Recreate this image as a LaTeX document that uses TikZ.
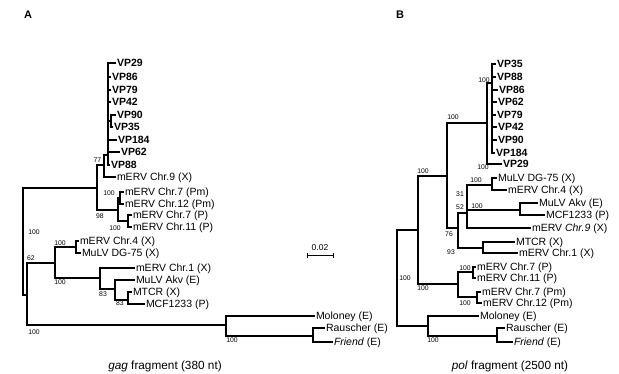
\documentclass[tikz,border=0pt]{standalone}
\usepackage{fontspec}
\setmainfont{Liberation Sans}
\begin{document}
\begin{tikzpicture}[x=1pt,y=-1pt,
  br/.style={line width=1.4pt},
  lf/.style={anchor=west, inner sep=0.8pt, font=\fontsize{10.5}{12}\selectfont, text height=7.4pt, text depth=0pt},
  vp/.style={lf, font=\fontsize{10.5}{12}\selectfont\bfseries},
  bs/.style={inner sep=0pt, font=\fontsize{6.8}{8}\selectfont},
  capt/.style={inner sep=0pt, font=\fontsize{11.8}{14}\selectfont},
  plab/.style={inner sep=0pt, font=\fontsize{11}{13}\selectfont\bfseries}]
\fill[white] (0,0) rectangle (619,374);
\useasboundingbox (0,0) rectangle (619,374);

% ---------------- Panel A ----------------
\node[plab] (labA) at (28,15) {A};
\coordinate (rA) at (23,241);
\coordinate (n97) at (97,188);
\coordinate (n77) at (104,165);
\coordinate (vpA) at (108,155);
\coordinate (s90) at (111,121);
\coordinate (n98) at (118,210);
\coordinate (pmA) at (120,198);
\coordinate (pA) at (128,221);
\coordinate (mA) at (27,295);
\coordinate (n62) at (55,263);
\coordinate (n4) at (76,247);
\coordinate (nLow) at (100,278);
\coordinate (n83a) at (115,289);
\coordinate (n83b) at (128,300);
\coordinate (molA) at (226,325);
\coordinate (rfA) at (313,336);

\node[vp] (aVP29) at (116,63) {VP29};
\node[vp] (aVP86) at (111,77) {VP86};
\node[vp] (aVP79) at (111,90) {VP79};
\node[vp] (aVP42) at (111,102) {VP42};
\node[vp] (aVP90) at (116,115) {VP90};
\node[vp] (aVP35) at (113,127) {VP35};
\node[vp] (aVP184) at (117,140) {VP184};
\node[vp] (aVP62) at (120,152) {VP62};
\node[vp] (aVP88) at (110,165) {VP88};
\node[lf] (aC9) at (116,177) {mERV Chr.9 (X)};
\node[lf] (aC7m) at (124,192) {mERV Chr.7 (Pm)};
\node[lf] (aC12m) at (124,204) {mERV Chr.12 (Pm)};
\node[lf] (aC7p) at (132,215) {mERV Chr.7 (P)};
\node[lf] (aC11p) at (132,227) {mERV Chr.11 (P)};
\node[lf] (aC4) at (79,241) {mERV Chr.4 (X)};
\node[lf] (aDG) at (81,253) {MuLV DG-75 (X)};
\node[lf] (aC1) at (135,268) {mERV Chr.1 (X)};
\node[lf] (aAkv) at (135,280) {MuLV Akv (E)};
\node[lf] (aMT) at (132,292) {MTCR (X)};
\node[lf] (aMCF) at (145,304) {MCF1233 (P)};
\node[lf] (aMol) at (315,316) {Moloney (E)};
\node[lf] (aRau) at (325,328) {Rauscher (E)};
\node[lf] (aFr) at (333,342) {\textit{Friend} (E)};

\foreach \p/\c in {rA/n97, rA/mA, n97/n77, n97/n98, n77/vpA, n77/aC9.west,
  vpA/aVP29.west, vpA/aVP86.west, vpA/aVP79.west, vpA/aVP42.west, vpA/s90,
  s90/aVP90.west, s90/aVP35.west, vpA/aVP184.west, vpA/aVP62.west, vpA/aVP88.west,
  n98/pmA, n98/pA, pmA/aC7m.west, pmA/aC12m.west, pA/aC7p.west, pA/aC11p.west,
  mA/n62, mA/molA, n62/n4, n62/nLow, n4/aC4.west, n4/aDG.west,
  nLow/aC1.west, nLow/n83a, n83a/aAkv.west, n83a/n83b, n83b/aMT.west, n83b/aMCF.west,
  molA/aMol.west, molA/rfA, rfA/aRau.west, rfA/aFr.west}
  \draw[br] (\p) |- (\c);

\node[bs] (bA1) at (97.5,160) {77};
\node[bs] (bA2) at (109,193) {100};
\node[bs] (bA3) at (100,216) {98};
\node[bs] (bA4) at (115,228) {100};
\node[bs] (bA5) at (34,232) {100};
\node[bs] (bA6) at (31,258) {62};
\node[bs] (bA7) at (60,243) {100};
\node[bs] (bA8) at (60,282) {100};
\node[bs] (bA9) at (103,294) {83};
\node[bs] (bA10) at (120,303) {83};
\node[bs] (bA11) at (34,332) {100};
\node[bs] (bA12) at (232,340) {100};

% scale bar
\coordinate (sb1) at (307,256);
\coordinate (sb2) at (333,256);
\draw[line width=1pt] (sb1) -- (sb2);
\draw[line width=1pt] ([yshift=-2pt]sb1) -- ([yshift=3pt]sb1);
\draw[line width=1pt] ([yshift=-2pt]sb2) -- ([yshift=3pt]sb2);
\node[bs, font=\fontsize{8.5}{10}\selectfont] (sbl) at (320,248) {0.02};

\node[capt] (capA) at (165,366) {\textit{gag} fragment (380 nt)};

% ---------------- Panel B ----------------
\node[plab] (labB) at (400,15) {B};
\coordinate (rB) at (397,278);
\coordinate (b418) at (418,230);
\coordinate (b447) at (447,176);
\coordinate (bVP) at (487,123);
\coordinate (bVPi) at (492,83);
\coordinate (b458a) at (458,228);
\coordinate (b467) at (467,213);
\coordinate (bDG) at (492,185);
\coordinate (bAkv) at (520,210);
\coordinate (bMT) at (483,248);
\coordinate (bChr) at (458,284);
\coordinate (bP) at (473,272);
\coordinate (bPm) at (477,297);
\coordinate (bMol) at (428,326);
\coordinate (bRF) at (497,336);

\node[vp] (bVP35) at (496,64) {VP35};
\node[vp] (bVP88) at (496,77) {VP88};
\node[vp] (bVP86) at (498,90) {VP86};
\node[vp] (bVP62) at (497,102) {VP62};
\node[vp] (bVP79) at (496,115) {VP79};
\node[vp] (bVP42) at (497,127) {VP42};
\node[vp] (bVP90) at (497,140) {VP90};
\node[vp] (bVP184) at (495,153) {VP184};
\node[vp] (bVP29) at (502,164) {VP29};
\node[lf] (bDGl) at (497,178) {MuLV DG-75 (X)};
\node[lf] (bC4) at (507,190) {mERV Chr.4 (X)};
\node[lf] (bAkvl) at (538,203) {MuLV Akv (E)};
\node[lf] (bMCF) at (545,215) {MCF1233 (P)};
\node[lf] (bC9) at (531,228) {mERV \textit{Chr.9} (X)};
\node[lf] (bMTl) at (515,242) {MTCR (X)};
\node[lf] (bC1) at (518,253) {mERV Chr.1 (X)};
\node[lf] (bC7p) at (476,267) {mERV Chr.7 (P)};
\node[lf] (bC11p) at (476,278) {mERV Chr.11 (P)};
\node[lf] (bC7m) at (481,292) {mERV Chr.7 (Pm)};
\node[lf] (bC12m) at (482,303) {mERV Chr.12 (Pm)};
\node[lf] (bMoll) at (479,316) {Moloney (E)};
\node[lf] (bRau) at (505,328) {Rauscher (E)};
\node[lf] (bFr) at (513,342) {\textit{Friend} (E)};

\foreach \p/\c in {rB/b418, rB/bMol, b418/b447, b418/bChr, b447/bVP, b447/b458a,
  bVP/bVPi, bVP/bVP29.west,
  bVPi/bVP35.west, bVPi/bVP88.west, bVPi/bVP86.west, bVPi/bVP62.west,
  bVPi/bVP79.west, bVPi/bVP42.west, bVPi/bVP90.west, bVPi/bVP184.west,
  b458a/b467, b458a/bMT, b467/bDG, b467/bAkv, b467/bC9.west,
  bDG/bDGl.west, bDG/bC4.west, bAkv/bAkvl.west, bAkv/bMCF.west,
  bMT/bMTl.west, bMT/bC1.west,
  bChr/bP, bChr/bPm, bP/bC7p.west, bP/bC11p.west, bPm/bC7m.west, bPm/bC12m.west,
  bMol/bMoll.west, bMol/bRF, bRF/bRau.west, bRF/bFr.west}
  \draw[br] (\p) |- (\c);

\node[bs] (bB1) at (484,80) {100};
\node[bs] (bB2) at (483,167) {100};
\node[bs] (bB3) at (453,117) {100};
\node[bs] (bB4) at (423,171) {100};
\node[bs] (bB5) at (476,180) {100};
\node[bs] (bB6) at (460,194) {31};
\node[bs] (bB7) at (460,207) {52};
\node[bs] (bB8) at (477,206) {100};
\node[bs] (bB9) at (449,234) {76};
\node[bs] (bB10) at (451,252) {93};
\node[bs] (bB11) at (405,278) {100};
\node[bs] (bB12) at (423,288) {100};
\node[bs] (bB13) at (465,268) {100};
\node[bs] (bB14) at (465,303) {100};
\node[bs] (bB15) at (433,340) {100};

\node[capt] (capB) at (510,366) {\textit{pol} fragment (2500 nt)};
\end{tikzpicture}
\end{document}
